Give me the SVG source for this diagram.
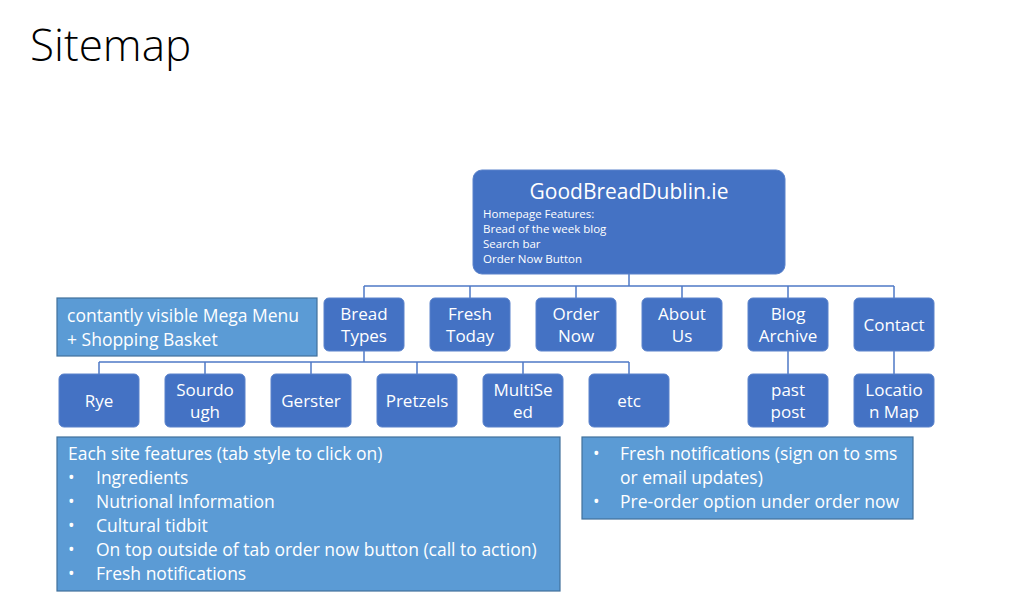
<svg xmlns="http://www.w3.org/2000/svg" width="1024" height="598" viewBox="0 0 1024 598">
<style>
.node{fill:#4472C4;stroke:#5A82CB;stroke-width:1}
.lbl{font-family:"Open Sans","Liberation Sans",sans-serif;font-size:17px;fill:#fff;text-anchor:middle}
.small{font-family:"Open Sans","Liberation Sans",sans-serif;font-size:11.5px;fill:#fff}
.note{fill:#5B9BD5;stroke:#41719C;stroke-width:1.2}
.nt{font-family:"Open Sans","Liberation Sans",sans-serif;font-size:17.5px;fill:#fff}
.conn{fill:none;stroke:#4F79C6;stroke-width:1.5}
</style>
<rect width="1024" height="598" fill="#fff"/>
<text x="30" y="61" font-family="'Open Sans','Liberation Sans',sans-serif" font-weight="300" font-size="44" fill="#000">Sitemap</text>

<g id="connectors">
<path class="conn" d="M629,274V286M364,286H894M364,286V298M470,286V298M576,286V298M682,286V298M788,286V298M894,286V298"/>
<path class="conn" d="M364,351V362M99,362H629M99,362V374M205,362V374M311,362V374M417,362V374M523,362V374M629,362V374"/>
<path class="conn" d="M788,351V374M894,351V374"/>
</g>

<g id="home">
<rect class="node" x="473" y="170" width="312" height="104" rx="9"/>
<text class="lbl" x="629" y="199" style="font-size:21px">GoodBreadDublin.ie</text>
<text class="small" x="483" y="218">Homepage Features:</text>
<text class="small" x="483" y="233">Bread of the week blog</text>
<text class="small" x="483" y="248">Search bar</text>
<text class="small" x="483" y="263">Order Now Button</text>
</g>

<g id="bread-types"><rect class="node" x="324" y="298" width="80" height="53" rx="5"/><text class="lbl" x="364" y="320">Bread</text><text class="lbl" x="364" y="342">Types</text></g>
<g id="fresh-today"><rect class="node" x="430" y="298" width="80" height="53" rx="5"/><text class="lbl" x="470" y="320">Fresh</text><text class="lbl" x="470" y="342">Today</text></g>
<g id="order-now"><rect class="node" x="536" y="298" width="80" height="53" rx="5"/><text class="lbl" x="576" y="320">Order</text><text class="lbl" x="576" y="342">Now</text></g>
<g id="about-us"><rect class="node" x="642" y="298" width="80" height="53" rx="5"/><text class="lbl" x="682" y="320">About</text><text class="lbl" x="682" y="342">Us</text></g>
<g id="blog-archive"><rect class="node" x="748" y="298" width="80" height="53" rx="5"/><text class="lbl" x="788" y="320">Blog</text><text class="lbl" x="788" y="342">Archive</text></g>
<g id="contact"><rect class="node" x="854" y="298" width="80" height="53" rx="5"/><text class="lbl" x="894" y="331">Contact</text></g>

<g id="rye"><rect class="node" x="59" y="374" width="80" height="53" rx="5"/><text class="lbl" x="99" y="407">Rye</text></g>
<g id="sourdough"><rect class="node" x="165" y="374" width="80" height="53" rx="5"/><text class="lbl" x="205" y="396">Sourdo</text><text class="lbl" x="205" y="418">ugh</text></g>
<g id="gerster"><rect class="node" x="271" y="374" width="80" height="53" rx="5"/><text class="lbl" x="311" y="407">Gerster</text></g>
<g id="pretzels"><rect class="node" x="377" y="374" width="80" height="53" rx="5"/><text class="lbl" x="417" y="407">Pretzels</text></g>
<g id="multiseed"><rect class="node" x="483" y="374" width="80" height="53" rx="5"/><text class="lbl" x="523" y="396">MultiSe</text><text class="lbl" x="523" y="418">ed</text></g>
<g id="etc"><rect class="node" x="589" y="374" width="80" height="53" rx="5"/><text class="lbl" x="629" y="407">etc</text></g>
<g id="past-post"><rect class="node" x="748" y="374" width="80" height="53" rx="5"/><text class="lbl" x="788" y="396">past</text><text class="lbl" x="788" y="418">post</text></g>
<g id="location-map"><rect class="node" x="854" y="374" width="80" height="53" rx="5"/><text class="lbl" x="894" y="396">Locatio</text><text class="lbl" x="894" y="418">n Map</text></g>

<g id="mega-menu-note">
<rect class="note" x="57" y="298" width="260" height="58"/>
<text class="nt" x="67" y="322">contantly visible Mega Menu</text>
<text class="nt" x="67" y="346">+ Shopping Basket</text>
</g>

<g id="features-note">
<rect class="note" x="57" y="437" width="503" height="154"/>
<text class="nt" x="68" y="460">Each site features (tab style to click on)</text>
<text class="nt" x="68" y="484">•</text><text class="nt" x="96" y="484">Ingredients</text>
<text class="nt" x="68" y="508">•</text><text class="nt" x="96" y="508">Nutrional Information</text>
<text class="nt" x="68" y="532">•</text><text class="nt" x="96" y="532">Cultural tidbit</text>
<text class="nt" x="68" y="556">•</text><text class="nt" x="96" y="556">On top outside of tab order now button (call to action)</text>
<text class="nt" x="68" y="580">•</text><text class="nt" x="96" y="580">Fresh notifications</text>
</g>

<g id="fresh-note">
<rect class="note" x="582" y="437" width="331" height="82"/>
<text class="nt" x="593" y="460">•</text><text class="nt" x="620" y="460">Fresh notifications (sign on to sms</text>
<text class="nt" x="620" y="484">or email updates)</text>
<text class="nt" x="593" y="508">•</text><text class="nt" x="620" y="508">Pre-order option under order now</text>
</g>
</svg>
